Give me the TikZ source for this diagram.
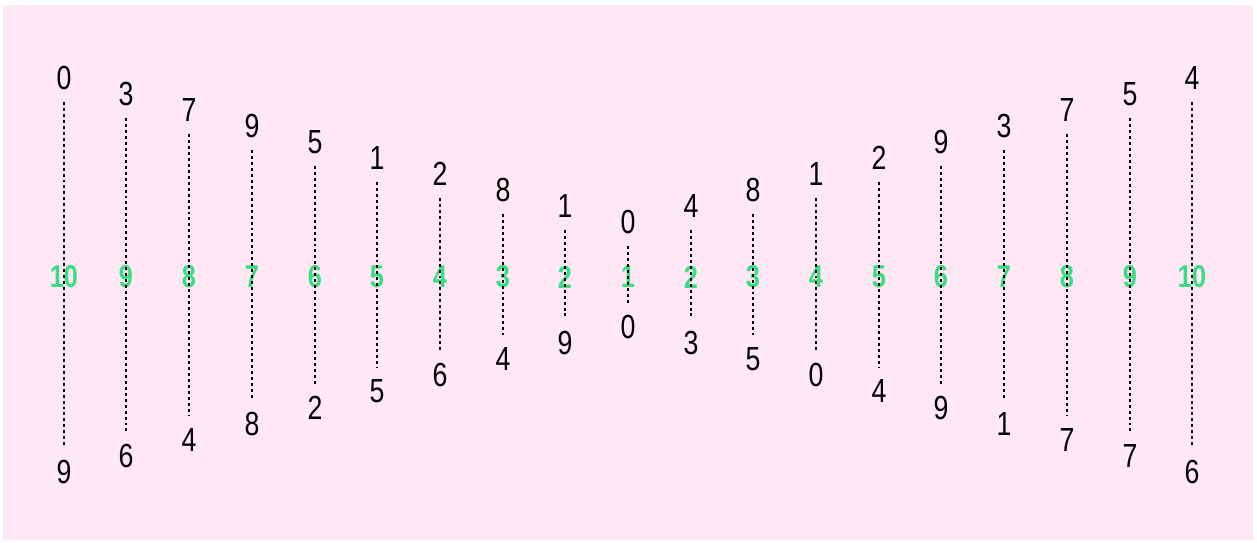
\documentclass[tikz,border=0pt]{standalone}
\usepackage{fontspec}
\usepackage{xcolor}
\definecolor{bgpink}{RGB}{253,232,243}
\definecolor{levgreen}{RGB}{61,220,132}
\newfontfamily\digitfont{Liberation Sans}[FakeStretch=0.8]
\tikzset{
    digit/.style={inner sep=0pt, minimum height=0.94cm, font=\digitfont\fontsize{19}{22}\selectfont, text=black},
    level/.style={inner sep=0pt, font=\digitfont\bfseries\fontsize{18}{20}\selectfont, text=levgreen},
    dotline/.style={black, line width=1.1pt, dash pattern=on 1.7pt off 1.7pt}
}
\begin{document}
\begin{tikzpicture}[x=0.02cm, y=-0.02cm]
    \useasboundingbox (0,0) rectangle (1257,542);
    \fill[bgpink] (3,5) rectangle (1253,540);
    % one column per pair: top digit / bottom digit
    \foreach \hi/\lo [count=\i from 0] in {0/9,3/6,7/4,9/8,5/2,1/5,2/6,8/4,1/9,0/0,4/3,8/5,1/0,2/4,9/9,3/1,7/7,5/7,4/6} {
        \pgfmathtruncatemacro\lev{abs(\i-9)+1}
        \pgfmathtruncatemacro\xx{round(628+(\i-9)*62.7)}
        \node[digit] (t\i) at (\xx,{222-16*(\lev-1)}) {\hi};
        \node[digit] (b\i) at (\xx,{327+16.1*(\lev-1)}) {\lo};
        \node[level] (m\i) at (\xx,277) {\lev};
        \draw[dotline] (t\i) -- (b\i);
    }
\end{tikzpicture}
\end{document}
